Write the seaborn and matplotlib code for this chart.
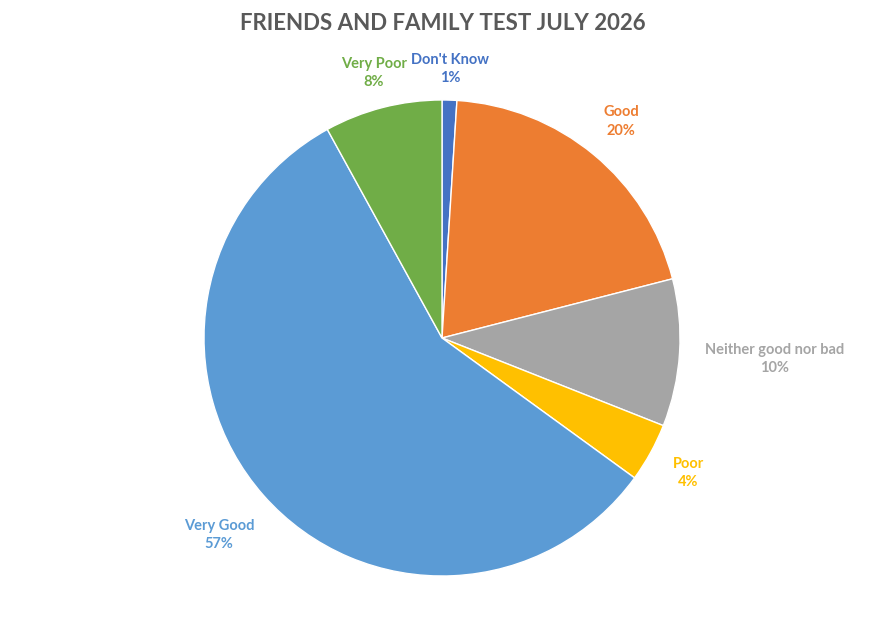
import matplotlib
matplotlib.use("Agg")
import matplotlib.pyplot as plt
import numpy as np
import seaborn as sns

sns.set_theme(style="white")
plt.rcParams['font.family'] = ['Lato', 'DejaVu Sans']

categories = ["Don't Know", "Good", "Neither good nor bad", "Poor", "Very Good", "Very Poor"]
values = [1, 20, 10, 4, 57, 8]
colors = ["#4472C4", "#ED7D31", "#A5A5A5", "#FFC000", "#5B9BD5", "#70AD47"]
label_radius = [1.13, 1.18, 1.40, 1.18, 1.25, 1.15]

fig = plt.figure(figsize=(8.85, 6.28), dpi=100)
ax = fig.add_axes([0.2305, 0.0828, 0.5379, 0.758])
labels = [f"{c}\n{v}%" for c, v in zip(categories, values)]
wedges, texts = ax.pie(values, colors=colors, startangle=90, counterclock=False,
                       labels=labels, labeldistance=1.2,
                       wedgeprops=dict(edgecolor="white", linewidth=1),
                       textprops=dict(fontsize=10.5, fontweight="bold"))
for w, t, c, r in zip(wedges, texts, colors, label_radius):
    mid = np.deg2rad((w.theta1 + w.theta2) / 2)
    t.set_position((r * np.cos(mid), r * np.sin(mid)))
    t.set_color(c)
    t.set_horizontalalignment("center")
    t.set_verticalalignment("center")
    t.set_linespacing(1.4)
ax.set_xlim(-1, 1)
ax.set_ylim(-1, 1)
ax.set_aspect("equal")
ax.axis("off")
fig.suptitle("FRIENDS AND FAMILY TEST JULY 2026", y=0.98, fontsize=16,
             fontweight="bold", color="#595959")
fig.savefig("out.png", dpi=100, facecolor="white")
